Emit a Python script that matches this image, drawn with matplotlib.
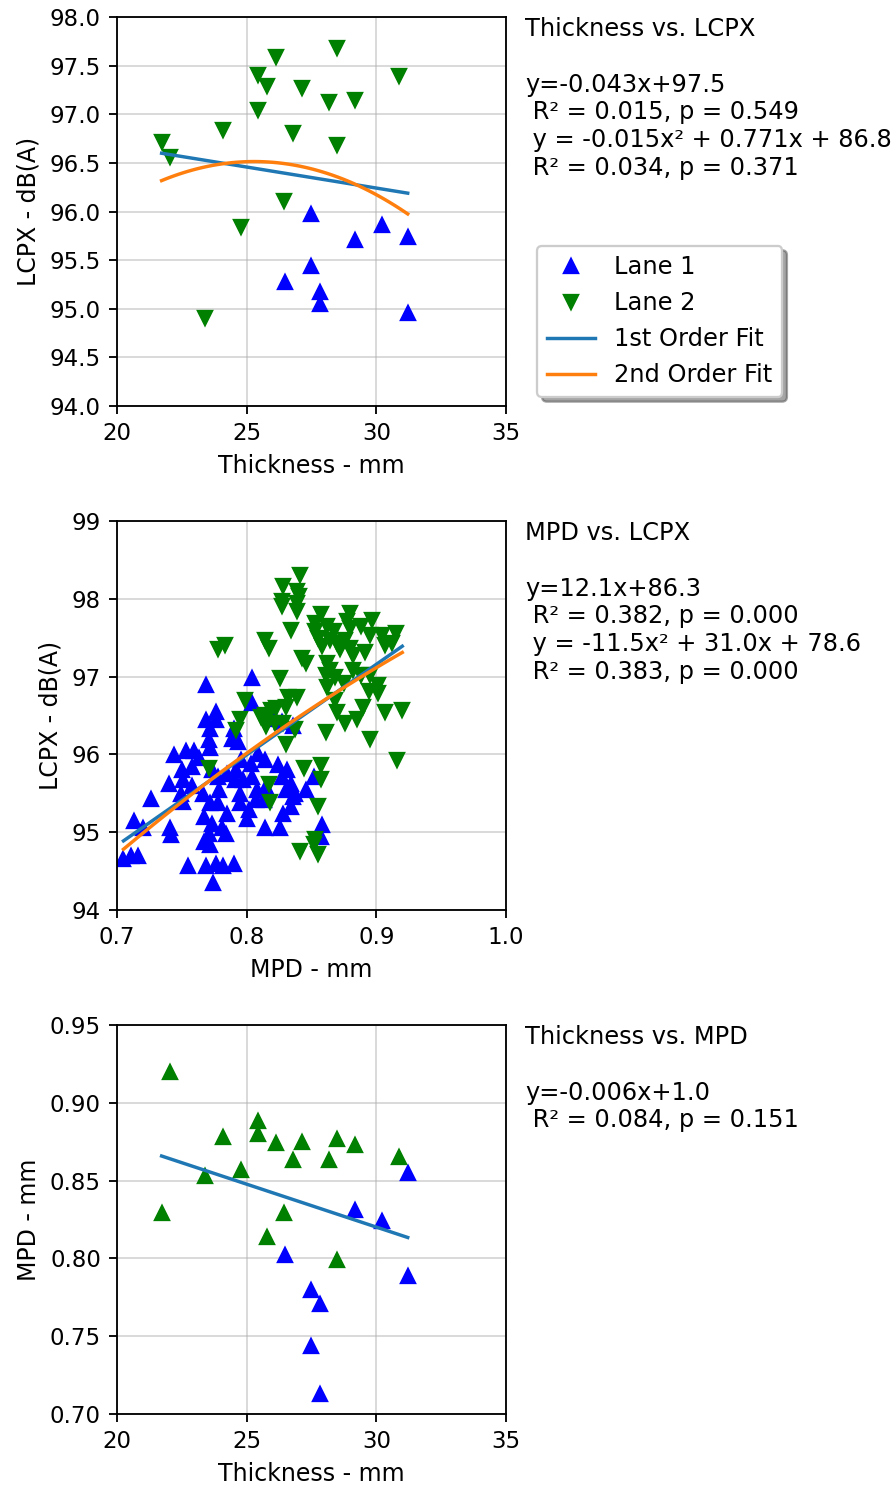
"""Three stacked scatter panels: thickness / MPD vs LCPX, thickness vs MPD, with fits."""
import numpy as np
import matplotlib; matplotlib.use("Agg")
import matplotlib.pyplot as plt

# --- per-section data, lane 1 and lane 2 ---
thick_l1 = [27.48, 27.48, 26.48, 27.83, 27.83, 29.18, 30.21, 31.21, 31.21]
lcpx_l1 = [95.97, 95.44, 95.28, 95.17, 95.05, 95.71, 95.86, 95.74, 94.96]
mpd_l1 = [0.780, 0.744, 0.802, 0.771, 0.713, 0.831, 0.824, 0.855, 0.789]

thick_l2 = [21.72, 22.04, 24.08, 23.39, 24.77, 25.45, 25.80, 25.45, 26.12,
            26.80, 26.45, 27.15, 28.16, 28.50, 28.50, 29.18, 30.89]
lcpx_l2 = [96.71, 96.56, 96.84, 94.91, 95.84, 97.40, 97.29, 97.04, 97.59,
           96.81, 96.11, 97.27, 97.13, 97.68, 96.68, 97.15, 97.39]
mpd_l2 = [0.829, 0.920, 0.878, 0.853, 0.857, 0.888, 0.814, 0.880, 0.874,
          0.863, 0.829, 0.875, 0.863, 0.877, 0.799, 0.873, 0.865]

# --- detailed (per-segment) MPD vs LCPX ---
mpd_seg_l1 = [0.769, 0.804, 0.804, 0.776, 0.769, 0.776, 0.772, 0.771, 0.772, 0.790,
              0.789, 0.793, 0.822, 0.827, 0.836, 0.744, 0.753, 0.759, 0.763, 0.758,
              0.750, 0.740, 0.751, 0.758, 0.773, 0.778, 0.785, 0.791, 0.804, 0.809,
              0.814, 0.803, 0.824, 0.831, 0.827, 0.834, 0.837, 0.830, 0.846, 0.852,
              0.792, 0.797, 0.779, 0.795, 0.726, 0.749, 0.751, 0.778, 0.785, 0.781,
              0.784, 0.795, 0.802, 0.800, 0.807, 0.808, 0.815, 0.813, 0.836, 0.834,
              0.828, 0.814, 0.826, 0.858, 0.857, 0.713, 0.720, 0.741, 0.742, 0.767,
              0.773, 0.771, 0.767, 0.772, 0.711, 0.716, 0.705, 0.755, 0.769, 0.776,
              0.782, 0.790, 0.774, 0.772, 0.766, 0.796]
lcpx_seg_l1 = [96.89, 96.98, 96.66, 96.55, 96.44, 96.44, 96.33, 96.18, 96.08, 96.33,
               96.20, 96.16, 96.46, 96.42, 96.36, 95.99, 96.05, 96.05, 95.95, 95.84,
               95.80, 95.62, 95.67, 95.60, 95.80, 95.71, 95.75, 95.67, 95.71, 96.01,
               95.93, 95.88, 95.86, 95.80, 95.71, 95.62, 95.49, 95.54, 95.54, 95.71,
               95.80, 95.67, 95.54, 95.49, 95.43, 95.49, 95.39, 95.37, 95.24, 95.06,
               94.98, 95.37, 95.28, 95.17, 95.41, 95.54, 95.58, 95.41, 95.45, 95.32,
               95.24, 95.06, 95.06, 95.09, 94.94, 95.15, 95.06, 95.06, 94.96, 95.19,
               95.11, 94.98, 94.87, 94.83, 94.70, 94.70, 94.66, 94.56, 94.57, 94.59,
               94.57, 94.59, 94.35, 95.37, 95.49, 95.93]

mpd_seg_l2 = [0.841, 0.828, 0.839, 0.840, 0.827, 0.827, 0.839, 0.839, 0.834, 0.814,
              0.817, 0.843, 0.846, 0.826, 0.857, 0.853, 0.853, 0.855, 0.858, 0.862,
              0.867, 0.864, 0.870, 0.872, 0.880, 0.877, 0.880, 0.876, 0.880, 0.882,
              0.888, 0.891, 0.897, 0.895, 0.904, 0.907, 0.915, 0.912, 0.862, 0.864,
              0.861, 0.868, 0.882, 0.888, 0.895, 0.901, 0.839, 0.832, 0.830, 0.799,
              0.795, 0.792, 0.814, 0.819, 0.823, 0.815, 0.822, 0.828, 0.837, 0.830,
              0.861, 0.862, 0.868, 0.870, 0.876, 0.885, 0.844, 0.857, 0.857, 0.817,
              0.818, 0.855, 0.841, 0.853, 0.855, 0.852, 0.771, 0.811, 0.778, 0.783,
              0.916, 0.920, 0.907, 0.895, 0.894, 0.901, 0.875, 0.890]
lcpx_seg_l2 = [98.31, 98.16, 98.10, 98.03, 97.97, 97.91, 97.95, 97.84, 97.60, 97.47,
               97.37, 97.24, 97.17, 96.98, 97.80, 97.69, 97.58, 97.50, 97.39, 97.65,
               97.58, 97.47, 97.43, 97.35, 97.82, 97.71, 97.63, 97.47, 97.37, 97.28,
               97.65, 97.32, 97.73, 97.54, 97.54, 97.41, 97.56, 97.43, 97.17, 97.09,
               97.02, 97.00, 97.09, 97.02, 97.02, 96.89, 96.74, 96.74, 96.61, 96.70,
               96.46, 96.31, 96.51, 96.57, 96.59, 96.36, 96.40, 96.40, 96.33, 96.14,
               96.29, 96.87, 96.70, 96.55, 96.40, 96.46, 95.82, 95.86, 95.69, 95.62,
               95.39, 95.34, 94.76, 94.91, 94.72, 94.85, 95.82, 96.48, 97.35, 97.40,
               95.93, 96.57, 96.54, 96.20, 96.81, 96.79, 96.92, 96.61]

txt_top = ("Thickness vs. LCPX\n\ny=-0.043x+97.5\n R² = 0.015, p = 0.549\n"
           " y = -0.015x² + 0.771x + 86.8\n R² = 0.034, p = 0.371")
txt_mid = ("MPD vs. LCPX\n\ny=12.1x+86.3\n R² = 0.382, p = 0.000\n"
           " y = -11.5x² + 31.0x + 78.6\n R² = 0.383, p = 0.000")
txt_bot = "Thickness vs. MPD\n\ny=-0.006x+1.0\n R² = 0.084, p = 0.151"

plt.rcParams["axes.labelsize"] = 10.3
TXT = 10.5

DPI = 165
fig = plt.figure(figsize=(895 / DPI, 1490 / DPI), dpi=DPI)
W, H = 389 / 895, 389 / 1490
L = 117 / 895
ax1 = fig.add_axes([L, 1 - 406 / 1490, W, H])
ax2 = fig.add_axes([L, 1 - 910 / 1490, W, H])
ax3 = fig.add_axes([L, 1 - 1414 / 1490, W, H])


def fits(ax, x, y, order2=True):
    x, y = np.asarray(x), np.asarray(y)
    xs = np.linspace(x.min(), x.max(), 100)
    ax.plot(xs, np.polyval(np.polyfit(x, y, 1), xs), c="C0", label="1st Order Fit")
    if order2:
        ax.plot(xs, np.polyval(np.polyfit(x, y, 2), xs), c="C1", label="2nd Order Fit")


ms = 6.5
# top: thickness vs LCPX
ax1.plot(thick_l1, lcpx_l1, "^", c="blue", ms=ms, label="Lane 1")
ax1.plot(thick_l2, lcpx_l2, "v", c="green", ms=ms, label="Lane 2")
fits(ax1, thick_l1 + thick_l2, lcpx_l1 + lcpx_l2)
ax1.set_xlim(20, 35); ax1.set_ylim(94, 98)
ax1.set_xlabel("Thickness - mm"); ax1.set_ylabel("LCPX - dB(A)")
ax1.text(1.05, 1.0, txt_top, transform=ax1.transAxes, va="top", ha="left", fontsize=TXT)
ax1.legend(loc="upper left", bbox_to_anchor=(1.05, 0.443), shadow=True, fontsize=TXT)

# middle: MPD vs LCPX
ax2.plot(mpd_seg_l1, lcpx_seg_l1, "^", c="blue", ms=ms)
ax2.plot(mpd_seg_l2, lcpx_seg_l2, "v", c="green", ms=ms)
fits(ax2, mpd_seg_l1 + mpd_seg_l2, lcpx_seg_l1 + lcpx_seg_l2)
ax2.set_xlim(0.7, 1.0); ax2.set_ylim(94, 99)
ax2.set_xlabel("MPD - mm"); ax2.set_ylabel("LCPX - dB(A)")
ax2.text(1.05, 1.0, txt_mid, transform=ax2.transAxes, va="top", ha="left", fontsize=TXT)

# bottom: thickness vs MPD
ax3.plot(thick_l1, mpd_l1, "^", c="blue", ms=ms)
ax3.plot(thick_l2, mpd_l2, "^", c="green", ms=ms)
fits(ax3, thick_l1 + thick_l2, mpd_l1 + mpd_l2, order2=False)
ax3.set_xlim(20, 35); ax3.set_ylim(0.70, 0.95)
ax3.set_xlabel("Thickness - mm"); ax3.set_ylabel("MPD - mm")
ax3.text(1.05, 1.0, txt_bot, transform=ax3.transAxes, va="top", ha="left", fontsize=TXT)

for a in (ax1, ax2, ax3):
    a.grid(alpha=0.5)
    a.set_axisbelow(True)

fig.savefig("out.png", dpi=DPI)
